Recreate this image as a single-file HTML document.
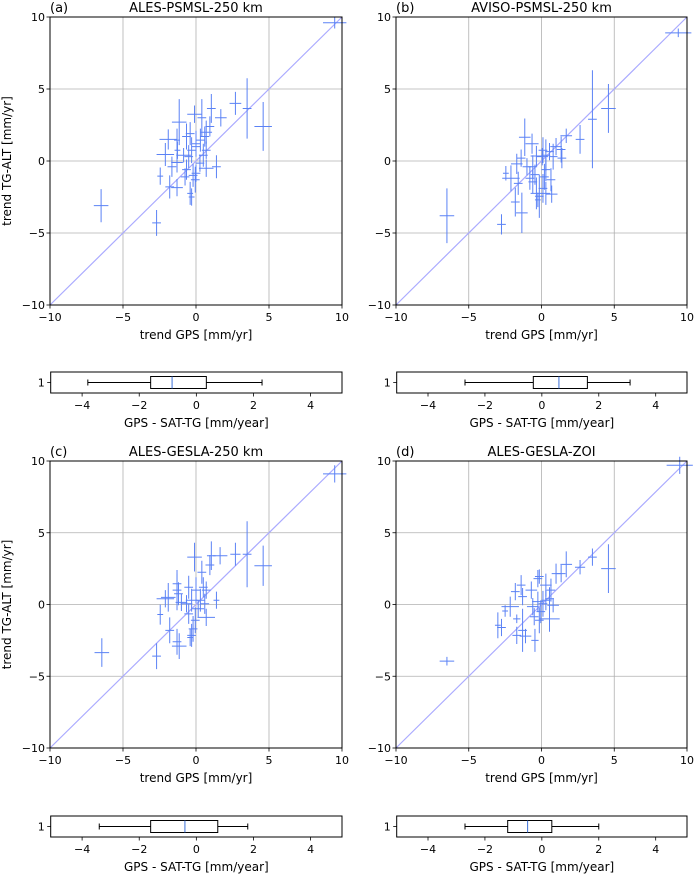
<!DOCTYPE html>
<html><head><meta charset="utf-8"><style>
body{margin:0;background:#fff}
svg text{font-family:"DejaVu Sans","Liberation Sans",sans-serif;fill:#000}
</style></head><body>
<svg id="s" width="694" height="874" xmlns="http://www.w3.org/2000/svg"></svg>
<script>
// [x, y, xerr, yerr]
const ptsA=[[-6.5,-3.1,.5,1.15],[-2.7,-4.3,.3,.9],[-2.45,-1.05,.2,.6],[-1.8,-1.8,.3,.8],[-1.3,-1.85,.4,.6],[-1.9,1.5,.6,.7],[-2.1,.45,.6,.8],[-1.15,2.7,.5,1.6],[-1.3,1.45,.2,.8],[-1.27,.75,.2,.6],[-1.65,-.4,.3,.7],[-1.3,-.1,.4,.7],[-.65,1.7,.3,.9],[-.4,1.9,.3,.8],[-.1,3.25,.5,.6],[0,1.2,.3,.9],[.4,3,.3,1.3],[1.05,3.65,.3,1],[1.7,3,.4,.6],[2.7,4,.4,.8],[3.5,3.65,.3,2.1],[4.6,2.4,.6,1.7],[.7,2,.4,.8],[.95,2.4,.3,.7],[.7,.75,.3,.6],[.5,.4,.3,.8],[.27,-.15,.3,.6],[.7,-.5,.5,.6],[1.4,-.4,.3,.8],[-.4,-2.25,.2,.8],[-.3,-2.5,.2,.6],[-.65,-.6,.3,.7],[-.2,-1,.3,.8],[0,-.85,.3,.6],[-.5,.3,.3,.8],[-.85,.4,.5,.5],[-.3,.75,.3,.9],[0,1,.3,.7],[.3,1.45,.3,.8],[.6,1.7,.3,.7],[-.05,-1.3,.3,.9],[-.75,-1.1,.3,.6],[9.5,9.6,.8,.4]];
const ptsB=[[-6.5,-3.8,.5,1.9],[-2.75,-4.4,.3,.7],[-2.45,-.85,.2,.5],[-2.1,-1.2,.6,.9],[-1.8,-2.85,.3,1],[-1.35,-3.6,.4,1.4],[-1.15,1.65,.4,1.3],[-.65,1.2,.45,.7],[-1.7,-.2,.4,.7],[-1.4,.2,.3,.6],[-1.6,-1.55,.3,.8],[-.8,-1.2,.3,.8],[-.45,-.95,.3,.7],[-.35,-2.25,.4,1.1],[-.15,-2.45,.3,1.5],[.05,.3,.4,.6],[-.35,.35,.4,.7],[.1,.75,.3,.9],[.3,.4,.3,1.1],[.55,.65,.3,.6],[.8,.3,.3,.9],[1,1,.4,.6],[1.35,.8,.3,.9],[1.4,.2,.3,.7],[1.7,1.75,.4,.5],[.3,-.6,.3,.8],[.2,-1.1,.3,.9],[.65,-1.3,.3,.8],[.7,-2.3,.4,.6],[.1,-1.9,.3,1],[-.6,-1.45,.3,.8],[.3,-2.25,.3,.8],[-.25,-2.7,.2,.5],[2.65,1.5,.3,1],[3.5,2.9,.3,3.4],[4.6,3.65,.5,1.7],[9.4,8.9,.9,.3],[-.6,-.4,.3,.8],[-1,-.4,.3,.6]];
const ptsC=[[-6.45,-3.35,.5,1],[-2.7,-3.6,.3,.9],[-2.45,-.7,.2,.7],[-1.8,-1.8,.3,.9],[-1.3,-2.6,.3,.9],[-1.15,-2.9,.5,.9],[-2.1,.4,.6,.6],[-1.9,.5,.5,1],[-1.3,1,.3,1.4],[-1.3,1.45,.3,.7],[-.5,1.2,.3,.8],[-.1,3.3,.5,1],[.4,2.25,.3,.8],[.95,2.75,.3,.7],[1.05,3.4,.3,1],[1.65,3.4,.5,.6],[2.7,3.5,.35,.8],[3.5,3.5,.3,2.3],[4.6,2.7,.6,1.4],[1.4,.3,.2,.6],[.7,-.9,.6,.6],[.6,.05,.3,.7],[.3,.3,.3,.8],[0,1,.3,.9],[.5,1.2,.3,.7],[.7,1,.3,.6],[-.3,.3,.4,.8],[-.65,.05,.4,.6],[-.5,-.65,.3,.7],[-.2,-1.7,.3,.9],[-.3,-2.15,.3,.8],[-.4,-2.3,.2,.6],[-.05,-1.1,.3,.9],[.15,-.3,.4,.6],[-1.2,.75,.3,.8],[-1,.15,.4,.6],[9.5,9.1,.8,.6]];
const ptsD=[[-6.5,-3.95,.5,.3],[-3,-1.45,.2,.9],[-2.75,-1.6,.3,.6],[-2.5,-.45,.2,.4],[-2.15,-.15,.6,.7],[-1.7,-1,.25,.3],[-1.7,-2.15,.3,.6],[-1.3,-1.8,.3,1.5],[-1.1,-2.2,.4,.5],[-.45,-2.5,.25,.8],[-1.8,.9,.3,.6],[-1.4,1.35,.3,.7],[-1.3,.55,.3,.6],[-.7,1,.4,.6],[-.25,1.8,.3,.6],[-.15,1.95,.3,.5],[.3,1.35,.4,.8],[.65,1,.3,.8],[1,2.15,.3,.7],[1.35,2.15,.3,.6],[1.7,2.8,.4,.9],[2.65,2.6,.35,.5],[3.5,3.3,.3,.6],[4.6,2.5,.5,1.7],[.55,.4,.3,.8],[.8,-.05,.4,.5],[.55,-1,.7,.9],[.1,.05,.3,.9],[-.25,.2,.4,.7],[-.05,-.5,.3,.8],[-.15,-1.1,.3,.9],[-.6,-.15,.4,.6],[-.5,-.85,.3,.6],[.3,.3,.3,.7],[9.5,9.7,.9,.6]];
// box stats: [whiskerLow, q1, median, q3, whiskerHigh]
const boxA=[-3.8,-1.6,-0.85,0.35,2.3];
const boxB=[-2.7,-0.3,0.6,1.6,3.1];
const boxC=[-3.4,-1.6,-0.4,0.75,1.8];
const boxD=[-2.7,-1.2,-0.5,0.35,2.0];
const titles=["ALES-PSMSL-250 km","AVISO-PSMSL-250 km","ALES-GESLA-250 km","ALES-GESLA-ZOI"];
const letters=["(a)","(b)","(c)","(d)"];
const scatTicks=[-10,-5,0,5,10];
const boxTicks=[-4,-2,0,2,4];

const S=document.getElementById('s');const NS="http://www.w3.org/2000/svg";
function el(t,a,p){const e=document.createElementNS(NS,t);for(const k in a)e.setAttribute(k,a[k]);(p||S).appendChild(e);return e;}
function txt(x,y,s,anchor,size,p,extra){const e=el('text',Object.assign({x:x,y:y,'text-anchor':anchor||'middle','font-size':size||11},extra||{}),p);e.textContent=s;return e;}
function fmt(v){return v<0?'\u2212'+(-v):''+v;}

const panels=[
 {L:50,T:17,W:292,H:288,bT:372,pts:ptsA,box:boxA,ylab:true},
 {L:396,T:17,W:291,H:288,bT:372,pts:ptsB,box:boxB,ylab:false},
 {L:50,T:461,W:292,H:287,bT:816,pts:ptsC,box:boxC,ylab:true},
 {L:396,T:461,W:291,H:287,bT:816,pts:ptsD,box:boxD,ylab:false}];
panels.forEach((P,i)=>{
 const g=el('g',{});
 
 
 const X=v=>P.L+(v+10)/20*P.W, Y=v=>P.T+P.H-(v+10)/20*P.H;
 scatTicks.forEach(t=>{
  el('line',{x1:X(t),x2:X(t),y1:P.T,y2:P.T+P.H,stroke:'#b0b0b0','stroke-width':0.8},g);
  el('line',{y1:Y(t),y2:Y(t),x1:P.L,x2:P.L+P.W,stroke:'#b0b0b0','stroke-width':0.8},g);
  el('line',{x1:X(t),x2:X(t),y1:P.T+P.H,y2:P.T+P.H+3.5,stroke:'#000','stroke-width':0.8},g);
  el('line',{y1:Y(t),y2:Y(t),x1:P.L-3.5,x2:P.L,stroke:'#000','stroke-width':0.8},g);
  txt(X(t),P.T+P.H+16,fmt(t),'middle',11,g);
  txt(P.L-5,Y(t)+4,fmt(t),'end',11,g);
 });
 el('line',{x1:X(-10),y1:Y(-10),x2:X(10),y2:Y(10),stroke:'#aaaaff','stroke-width':1.2},g);
 P.pts.forEach(p=>{
  const e=el('path',{d:`M${X(p[0]-p[2])},${Y(p[1])}H${X(p[0]+p[2])}M${X(p[0])},${Y(p[1]-p[3])}V${Y(p[1]+p[3])}`,stroke:'#5b82f5','stroke-width':1,fill:'none'},g);
  
  
 });
 el('rect',{x:P.L,y:P.T,width:P.W,height:P.H,fill:'none',stroke:'#000','stroke-width':1},g);
 const tt=txt(P.L+P.W/2,P.T-5,titles[i],'middle',13,g);
 
 
 txt(P.L,P.T-5,letters[i],'start',13,g);
 txt(P.L+P.W/2,P.T+P.H+34,'trend GPS [mm/yr]','middle',12,g);
 if(P.ylab){const yl=txt(0,0,'trend TG-ALT [mm/yr]','middle',12,g,{transform:`translate(11,${P.T+P.H/2}) rotate(-90)`});
  }
 const bg=el('g',{});
 
 
 const bL=P.L+0.7,bW=P.W-0.7,bH=21,bT=P.bT;
 const BX=v=>bL+(v+5.1)/10.2*bW, cy=bT+bH/2;
 boxTicks.forEach(t=>{
  el('line',{x1:BX(t),x2:BX(t),y1:bT+bH,y2:bT+bH+3.5,stroke:'#000','stroke-width':0.8},bg);
  txt(BX(t),bT+bH+16,fmt(t),'middle',11,bg);
 });
 el('line',{x1:bL-3.5,x2:bL,y1:cy,y2:cy,stroke:'#000','stroke-width':0.8},bg);
 txt(bL-6,cy+4,'1','end',11,bg);
 const b=P.box,bh=6;
 el('line',{x1:BX(b[0]),x2:BX(b[1]),y1:cy,y2:cy,stroke:'#000'},bg);
 el('line',{x1:BX(b[3]),x2:BX(b[4]),y1:cy,y2:cy,stroke:'#000'},bg);
 el('line',{x1:BX(b[0]),x2:BX(b[0]),y1:cy-3,y2:cy+3,stroke:'#000'},bg);
 el('line',{x1:BX(b[4]),x2:BX(b[4]),y1:cy-3,y2:cy+3,stroke:'#000'},bg);
 el('rect',{x:BX(b[1]),y:cy-bh,width:BX(b[3])-BX(b[1]),height:2*bh,fill:'none',stroke:'#000'},bg);
 el('line',{x1:BX(b[2]),x2:BX(b[2]),y1:cy-bh,y2:cy+bh,stroke:'#3a6fd8'},bg);
 el('rect',{x:bL,y:bT,width:bW,height:bH,fill:'none',stroke:'#000'},bg);
 txt(bL+bW/2,bT+bH+34,'GPS - SAT-TG [mm/year]','middle',12,bg);
});
</script>
</body></html>
